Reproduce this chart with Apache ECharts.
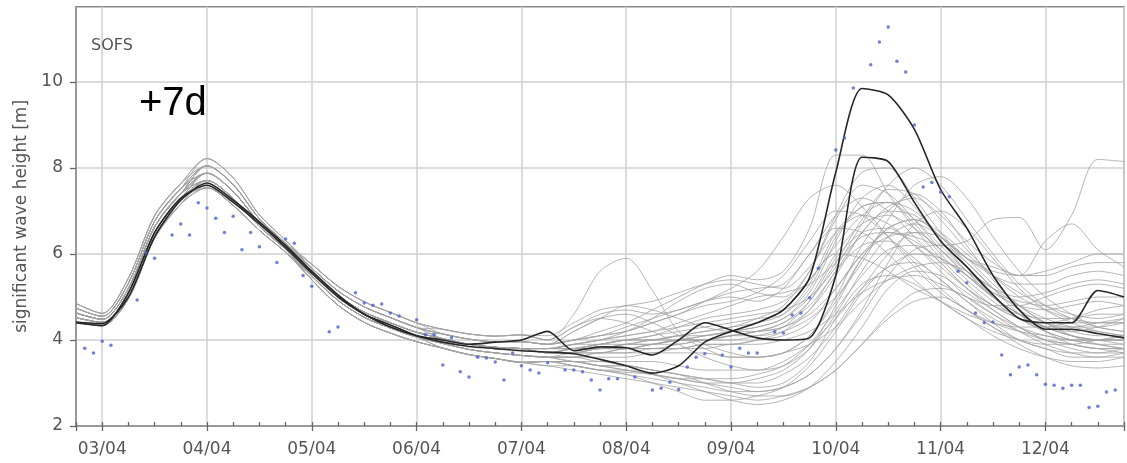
<!DOCTYPE html>
<html>
<head>
<meta charset="utf-8">
<script src="https://cdn.jsdelivr.net/npm/echarts@6/dist/echarts.min.js"></script>
<style>
  html, body { margin: 0; padding: 0; background: #fff; }
  #chart { width: 1127px; height: 463px; }
</style>
</head>
<body>
<div id="chart"></div>
<script>
// Forecast valid times, hours after 03/04 00:00 (6-hourly)
const hours = [-6,0,6,12,18,24,30,36,42,48,54,60,66,72,78,84,90,96,102,108,114,120,126,132,138,144,150,156,162,168,174,180,186,192,198,204,210,216,222,228,234];

// Day tick labels (x = 0 .. 9 days after 03/04)
const dayLabels = ['03/04','04/04','05/04','06/04','07/04','08/04','09/04','10/04','11/04','12/04'];

// Labelled wave-height ticks
const heightTicks = [2,4,6,8,10];

// Two highlighted runs (black)
const runHigh = [4.42,4.38,5.0,6.4,7.25,7.65,7.25,6.75,6.2,5.6,5.05,4.6,4.35,4.1,3.95,3.85,3.8,3.75,3.72,3.68,3.55,3.4,3.23,3.4,3.95,4.2,4.4,4.7,5.45,7.9,9.85,9.7,8.9,7.5,6.6,5.5,4.7,4.25,4.25,4.15,4.05];
const runLow  = [4.4,4.33,5.1,6.5,7.3,7.6,7.2,6.7,6.15,5.55,5.0,4.6,4.3,4.1,4.0,3.9,3.95,4.0,4.2,3.75,3.84,3.82,3.65,4.0,4.4,4.23,4.05,4.0,4.05,5.5,8.25,8.15,7.2,6.3,5.7,5.05,4.5,4.4,4.4,5.15,5.0];

// Ensemble members (grey)
const ens01 = [4.63,4.48,5.2,6.63,7.4,7.88,7.45,6.73,6.18,5.67,5.14,4.77,4.52,4.29,4.25,4.14,4.09,4.12,4.0,4.6,5.6,5.9,5.15,4.2,3.9,3.7,3.6,3.7,4.1,4.9,5.9,6.5,6.3,5.8,5.2,4.7,4.3,4.0,3.9,3.8,3.8];
const ens02 = [4.74,4.55,5.32,6.76,7.52,8.05,7.61,6.82,6.25,5.58,5.03,4.65,4.4,4.18,4.14,4.02,3.96,3.96,3.9,4.0,4.2,4.4,4.7,5.0,5.3,5.5,5.4,5.6,6.6,8.3,8.3,7.4,6.6,5.9,5.3,4.8,4.5,4.4,4.5,4.7,4.8];
const ens03 = [4.52,4.41,5.08,6.5,7.28,7.88,7.45,6.73,6.18,5.58,5.03,4.65,4.4,4.18,4.03,3.9,3.83,3.8,3.8,3.9,4.0,4.2,4.5,4.9,5.2,5.3,5.1,5.0,5.6,6.8,7.6,7.4,6.8,6.1,5.5,5.0,4.6,4.3,4.2,4.3,4.5];
const ens04 = [4.63,4.48,5.2,6.63,7.4,7.71,7.29,6.64,6.11,5.49,4.92,4.53,4.28,4.07,3.92,3.78,3.7,3.64,3.6,3.5,3.4,3.3,3.2,3.0,2.8,2.6,2.5,2.6,2.9,3.5,4.3,5.2,5.6,5.5,5.1,4.7,4.3,4.0,3.8,3.7,3.7];
const ens05 = [4.41,4.34,4.96,6.37,7.16,7.71,7.29,6.64,6.11,5.49,4.92,4.53,4.28,4.07,3.81,3.66,3.57,3.48,3.5,3.4,3.3,3.25,3.2,3.1,3.0,2.9,2.8,2.9,3.2,3.8,4.6,5.5,6.1,6.2,5.8,5.2,4.6,4.2,3.9,3.8,3.7];
const ens06 = [4.63,4.48,5.2,6.63,7.4,8.05,7.61,6.82,6.25,5.58,5.03,4.65,4.4,4.18,4.03,3.9,3.83,3.8,3.8,3.8,3.9,4.0,4.1,4.2,4.3,4.4,4.5,4.6,5.2,6.4,7.1,7.2,6.7,6.0,5.4,4.9,4.5,4.2,4.0,3.9,3.9];
const ens07 = [4.85,4.62,5.44,6.89,7.64,8.22,7.77,6.91,6.32,5.67,5.14,4.77,4.52,4.29,4.03,3.9,3.83,3.8,3.7,3.8,3.9,4.0,4.0,4.1,4.2,4.3,4.5,4.8,5.6,6.9,7.9,8.0,7.3,6.5,5.9,5.6,5.5,5.6,5.8,6.0,6.0];
const ens08 = [4.52,4.41,5.08,6.5,7.28,7.88,7.45,6.73,6.18,5.67,5.14,4.77,4.52,4.29,4.14,4.02,3.96,3.96,3.9,4.2,4.5,4.8,4.7,4.5,4.3,4.2,4.2,4.3,4.6,5.2,6.0,6.6,6.8,6.5,6.0,5.5,5.1,4.8,4.6,4.5,4.6];
const ens09 = [4.74,4.55,5.32,6.76,7.52,7.88,7.45,6.73,6.18,5.58,5.03,4.65,4.4,4.18,4.03,3.9,3.83,3.8,3.8,3.9,4.0,4.1,4.2,4.4,4.6,4.8,5.0,5.1,5.3,5.8,6.4,6.5,6.4,6.2,6.3,6.8,6.85,6.1,6.9,8.2,8.15];
const ens10 = [4.63,4.48,5.2,6.63,7.4,7.88,7.45,6.73,6.18,5.49,4.92,4.53,4.28,4.07,4.03,3.9,3.83,3.8,3.7,3.8,3.9,4.0,4.1,4.3,4.5,4.6,4.7,4.9,5.4,6.2,6.9,7.2,7.0,6.4,5.9,5.7,5.5,6.3,6.7,6.1,5.7];
const ens11 = [4.52,4.41,5.08,6.5,7.28,7.54,7.13,6.55,6.04,5.4,4.81,4.41,4.16,3.96,3.81,3.66,3.57,3.48,3.5,3.5,3.4,3.4,3.3,3.2,3.1,3.0,3.0,3.2,3.6,4.3,5.2,6.0,6.5,6.4,5.9,5.3,4.8,4.4,4.1,3.9,3.8];
const ens12 = [4.63,4.48,5.2,6.63,7.4,7.88,7.45,6.73,6.18,5.58,5.03,4.65,4.4,4.18,4.03,3.9,3.83,3.8,3.7,3.7,3.8,3.8,3.9,4.0,4.0,4.1,4.2,4.4,4.9,5.8,6.8,7.5,7.4,6.8,6.1,5.5,5.0,4.7,4.5,4.4,4.4];
const ens13 = [4.74,4.55,5.32,6.76,7.52,8.22,7.77,6.91,6.32,5.76,5.25,4.89,4.64,4.4,4.14,4.02,3.96,3.96,3.9,4.0,4.1,4.2,4.4,4.6,4.8,4.9,5.1,5.5,6.3,7.0,6.9,6.4,5.8,5.2,4.7,4.3,4.0,3.8,3.7,3.7,3.8];
const ens14 = [4.41,4.34,4.96,6.37,7.16,7.54,7.13,6.55,6.04,5.49,4.92,4.53,4.28,4.07,3.92,3.78,3.7,3.64,3.6,3.5,3.5,3.4,3.3,3.2,3.0,2.8,2.7,2.7,2.9,3.3,3.9,4.6,5.1,5.2,5.0,4.6,4.2,3.9,3.7,3.6,3.6];
const ens15 = [4.63,4.48,5.2,6.63,7.4,8.05,7.61,6.82,6.25,5.67,5.14,4.77,4.52,4.29,4.03,3.9,3.83,3.8,3.8,3.8,3.8,3.9,3.9,4.0,4.0,4.1,4.1,4.2,4.5,5.0,5.8,6.8,7.6,7.8,7.3,6.4,5.6,5.0,4.6,4.3,4.2];
const ens16 = [4.52,4.41,5.08,6.5,7.28,7.71,7.29,6.64,6.11,5.49,4.92,4.53,4.28,4.07,3.92,3.78,3.7,3.64,3.6,3.6,3.7,3.7,3.8,3.8,3.9,3.9,4.0,4.2,4.7,5.6,6.2,6.3,5.9,5.4,4.9,4.5,4.2,4.0,3.9,3.8,3.8];
const ens17 = [4.85,4.62,5.44,6.89,7.64,8.05,7.61,6.82,6.25,5.76,5.25,4.89,4.64,4.4,4.25,4.14,4.09,4.12,4.0,4.3,4.6,4.7,4.6,4.7,4.9,5.1,5.2,5.3,6.0,6.9,7.3,7.0,6.4,5.8,5.2,4.8,4.5,4.3,4.3,4.4,4.5];
const ens18 = [4.52,4.41,5.08,6.5,7.28,7.71,7.29,6.64,6.11,5.4,4.81,4.41,4.16,3.96,3.81,3.66,3.57,3.48,3.5,3.4,3.3,3.2,3.0,2.8,2.6,2.6,2.7,2.9,3.4,4.2,5.1,5.7,5.8,5.4,4.9,4.4,4.0,3.8,3.6,3.6,3.7];
const ens19 = [4.63,4.48,5.2,6.63,7.4,7.71,7.29,6.64,6.11,5.58,5.03,4.65,4.4,4.18,4.03,3.9,3.83,3.8,3.7,3.8,3.8,3.9,4.0,4.1,4.1,4.2,4.3,4.5,5.0,6.0,6.7,6.9,6.6,6.1,5.6,5.2,5.0,5.1,5.3,5.4,5.3];
const ens20 = [4.74,4.55,5.32,6.76,7.52,8.05,7.61,6.82,6.25,5.76,5.25,4.89,4.64,4.4,4.25,4.14,4.09,4.12,4.0,4.3,4.5,4.4,4.2,3.9,3.6,3.4,3.3,3.4,3.8,4.6,5.6,6.4,6.7,6.4,5.8,5.2,4.7,4.4,4.3,4.3,4.4];
const ens21 = [4.63,4.48,5.2,6.63,7.4,7.88,7.45,6.73,6.18,5.58,5.03,4.65,4.4,4.18,4.03,3.9,3.83,3.8,3.8,3.9,4.0,4.1,4.2,4.3,4.4,4.5,4.6,4.7,5.0,5.7,6.7,7.6,8.0,7.6,6.8,6.0,5.3,4.8,4.5,4.3,4.2];
const ens22 = [4.41,4.34,4.96,6.37,7.16,7.54,7.13,6.55,6.04,5.4,4.81,4.41,4.16,3.96,3.81,3.66,3.57,3.48,3.4,3.4,3.3,3.3,3.2,3.1,3.1,3.1,3.2,3.4,3.9,4.7,5.5,6.1,6.2,5.9,5.5,5.1,4.9,4.8,4.9,5.0,5.0];
const ens23 = [4.85,4.62,5.44,6.89,7.64,8.22,7.77,6.91,6.32,5.67,5.14,4.77,4.52,4.29,4.14,4.02,3.96,3.96,3.9,4.0,4.1,4.2,4.4,4.6,4.9,5.2,5.6,6.4,7.3,7.6,7.1,6.4,5.7,5.1,4.7,4.4,4.2,4.1,4.0,4.0,4.0];
const ens24 = [4.52,4.41,5.08,6.5,7.28,7.71,7.29,6.64,6.11,5.49,4.92,4.53,4.28,4.07,3.92,3.78,3.7,3.64,3.6,3.6,3.5,3.5,3.5,3.4,3.3,3.3,3.3,3.5,3.9,4.5,5.2,5.7,6.0,5.9,5.5,5.0,4.6,4.3,4.1,4.0,3.9];
const ens25 = [4.63,4.48,5.2,6.63,7.4,7.88,7.45,6.73,6.18,5.49,4.92,4.53,4.28,4.07,4.03,3.9,3.83,3.8,3.7,3.7,3.7,3.8,3.8,3.9,4.0,4.1,4.2,4.4,4.8,5.6,6.5,7.0,6.9,6.4,5.9,5.5,5.3,5.3,5.5,5.6,5.5];
const ens26 = [4.74,4.55,5.32,6.76,7.52,7.88,7.45,6.73,6.18,5.67,5.14,4.77,4.52,4.29,4.14,4.02,3.96,3.96,3.9,4.0,4.1,4.3,4.5,4.7,4.9,5.0,4.9,5.2,6.0,6.6,6.5,6.0,5.4,4.9,4.5,4.2,4.0,3.9,3.9,4.0,4.1];
const ens27 = [4.41,4.34,4.96,6.37,7.16,7.71,7.29,6.64,6.11,5.4,4.81,4.41,4.16,3.96,3.81,3.66,3.57,3.48,3.5,3.5,3.4,3.4,3.3,3.2,3.1,3.0,2.9,3.0,3.5,4.5,5.3,5.5,5.3,4.9,4.5,4.1,3.8,3.6,3.5,3.5,3.6];
const ens28 = [4.63,4.48,5.2,6.63,7.4,8.05,7.61,6.82,6.25,5.58,5.03,4.65,4.4,4.18,4.03,3.9,3.83,3.8,3.8,3.9,3.9,4.0,4.0,4.1,4.2,4.3,4.4,4.6,5.3,6.5,7.1,7.2,6.8,6.2,5.6,5.1,4.8,4.7,4.8,4.9,4.8];
const ens29 = [4.52,4.41,5.08,6.5,7.28,7.88,7.45,6.73,6.18,5.49,4.92,4.53,4.28,4.07,3.92,3.78,3.7,3.64,3.6,3.7,3.7,3.8,3.8,3.8,3.9,3.9,4.0,4.1,4.4,5.2,6.0,6.4,6.5,6.1,5.5,5.0,4.6,4.3,4.1,4.0,4.0];
const ens30 = [4.85,4.62,5.44,6.89,7.64,8.05,7.61,6.82,6.25,5.76,5.25,4.89,4.64,4.4,4.25,4.14,4.09,4.12,4.1,4.4,4.7,4.8,4.9,5.1,5.3,5.4,5.3,5.2,5.7,6.5,6.9,6.7,6.2,5.6,5.0,4.6,4.3,4.1,4.0,4.0,4.1];
const ens31 = [4.52,4.41,5.08,6.5,7.28,7.54,7.13,6.55,6.04,5.49,4.92,4.53,4.28,4.07,3.81,3.66,3.57,3.48,3.5,3.4,3.3,3.2,3.1,3.0,2.9,2.8,2.8,2.9,3.2,3.8,4.7,5.8,6.7,7.0,6.6,5.9,5.2,4.7,4.4,4.2,4.1];
const ens32 = [4.74,4.55,5.32,6.76,7.52,7.88,7.45,6.73,6.18,5.58,5.03,4.65,4.4,4.18,4.03,3.9,3.83,3.8,3.8,3.8,3.9,3.9,4.0,4.0,4.1,4.2,4.3,4.5,5.1,6.3,7.3,7.6,7.1,6.3,5.6,5.0,4.6,4.3,4.1,4.0,4.0];
const ens33 = [4.63,4.48,5.2,6.63,7.4,7.71,7.29,6.64,6.11,5.58,5.03,4.65,4.4,4.18,4.03,3.9,3.83,3.8,3.7,3.7,3.8,3.8,3.9,4.0,4.1,4.2,4.4,4.7,5.4,6.0,5.9,5.6,5.2,4.9,4.6,4.4,4.3,4.3,4.4,4.4,4.4];
const ens34 = [4.52,4.41,5.08,6.5,7.28,7.88,7.45,6.73,6.18,5.49,4.92,4.53,4.28,4.07,3.92,3.78,3.7,3.64,3.6,3.6,3.6,3.6,3.7,3.7,3.7,3.6,3.6,3.7,3.9,4.3,4.9,5.4,5.7,5.8,5.6,5.2,4.8,4.5,4.3,4.2,4.1];
const ens35 = [4.63,4.48,5.2,6.63,7.4,8.05,7.61,6.82,6.25,5.58,5.03,4.65,4.4,4.18,4.03,3.9,3.83,3.8,3.7,3.8,3.8,3.9,3.9,4.0,4.0,4.1,4.2,4.3,4.7,5.5,6.5,7.1,7.3,6.9,6.3,5.8,5.5,5.5,5.7,5.8,5.8];
const ens36 = [4.41,4.34,4.96,6.37,7.16,7.54,7.13,6.55,6.04,5.4,4.81,4.41,4.16,3.96,3.81,3.66,3.57,3.48,3.4,3.3,3.2,3.1,3.0,2.9,2.8,2.7,2.6,2.7,2.9,3.3,3.9,4.5,4.9,5.0,4.7,4.3,3.9,3.6,3.4,3.35,3.4];
const ens37 = [4.63,4.48,5.2,6.63,7.4,7.88,7.45,6.73,6.18,5.58,5.03,4.65,4.4,4.18,4.03,3.9,3.83,3.8,3.7,3.7,3.8,3.8,3.9,3.9,4.0,4.0,4.1,4.3,4.9,5.9,6.5,6.6,6.2,5.7,5.2,4.8,4.6,4.5,4.5,4.6,4.6];
const ens38 = [4.74,4.55,5.32,6.76,7.52,8.05,7.61,6.82,6.25,5.67,5.14,4.77,4.52,4.29,4.14,4.02,3.96,3.96,3.9,4.2,4.5,4.6,4.4,4.1,3.8,3.6,3.6,3.7,4.1,5.0,6.2,7.0,7.4,7.0,6.2,5.4,4.8,4.4,4.2,4.1,4.1];
const ens39 = [4.52,4.41,5.08,6.5,7.28,7.71,7.29,6.64,6.11,5.49,4.92,4.53,4.28,4.07,3.92,3.78,3.7,3.64,3.6,3.6,3.7,3.7,3.7,3.8,3.8,3.9,3.9,4.0,4.2,4.6,5.1,5.4,5.5,5.3,5.0,4.8,4.8,5.0,5.2,5.3,5.2];
const ens40 = [4.41,4.34,4.96,6.37,7.16,7.71,7.29,6.64,6.11,5.4,4.81,4.41,4.16,3.96,3.81,3.66,3.57,3.48,3.5,3.5,3.4,3.3,3.2,3.1,3.0,3.0,3.1,3.3,3.8,4.8,5.9,6.6,6.8,6.4,5.7,5.0,4.5,4.2,4.0,3.9,3.8];

const ensemble = [ens01,ens02,ens03,ens04,ens05,ens06,ens07,ens08,ens09,ens10,
                  ens11,ens12,ens13,ens14,ens15,ens16,ens17,ens18,ens19,ens20,
                  ens21,ens22,ens23,ens24,ens25,ens26,ens27,ens28,ens29,ens30,
                  ens31,ens32,ens33,ens34,ens35,ens36,ens37,ens38,ens39,ens40];

// Buoy observations: hours after 03/04 00:00 and measured height [m]
const obsHours = [-4,-2,0,2,8,10,12,16,18,20,22,24,26,28,30,32,34,36,40,42,44,46,48,52,54,58,60,62,64,66,68,72,74,76,78,80,82,84,86,88,90,92,94,96,98,100,102,106,108,110,112,114,116,118,122,126,128,130,132,134,136,138,142,144,146,148,150,154,156,158,160,162,164,168,170,172,176,178,180,182,184,186,188,190,192,194,196,198,200,202,204,206,208,210,212,214,216,218,220,222,224,226,228,230,232];
const obsValues = [3.81,3.7,3.97,3.88,4.93,6.03,5.9,6.44,6.7,6.44,7.19,7.07,6.83,6.5,6.88,6.1,6.5,6.17,5.8,6.35,6.25,5.5,5.25,4.19,4.3,5.1,4.86,4.81,4.84,4.63,4.56,4.47,4.12,4.12,3.42,4.05,3.26,3.14,3.6,3.58,3.49,3.07,3.7,3.4,3.3,3.23,3.47,3.3,3.3,3.26,3.07,2.84,3.1,3.1,3.14,2.84,2.88,3.02,2.85,3.37,3.6,3.68,3.65,3.37,3.81,3.7,3.7,4.19,4.16,4.58,4.63,4.98,5.67,8.42,8.7,9.86,10.4,10.93,11.28,10.48,10.23,9.0,7.56,7.66,7.44,7.33,5.6,5.33,4.63,4.4,4.42,3.65,3.19,3.37,3.42,3.19,2.97,2.95,2.88,2.95,2.95,2.43,2.46,2.79,2.84];

const toDays = h => h / 24;
const memberPoints = vals => hours.map((h, i) => [toDays(h), vals[i]]);

const labelFont = 'DejaVu Sans';
const textGrey = '#555';
const frameGrey = '#8a8a8a';
const tickStyle = { color: '#666', width: 1.3 };

const series = [];
ensemble.forEach(m => {
  series.push({
    type: 'line', data: memberPoints(m), showSymbol: false, smooth: 0.3,
    silent: true, z: 2,
    lineStyle: { color: '#a2a2a2', width: 0.8 }
  });
});
[runHigh, runLow].forEach(r => {
  series.push({
    type: 'line', data: memberPoints(r), showSymbol: false, smooth: 0.25,
    silent: true, z: 3,
    lineStyle: { color: '#262626', width: 1.6 }
  });
});
series.push({
  type: 'scatter', z: 4, silent: true,
  data: obsHours.map((h, i) => [toDays(h), obsValues[i]]),
  symbol: 'circle', symbolSize: 3.5,
  itemStyle: { color: '#4c60d0' }
});

const chart = echarts.init(document.getElementById('chart'), null, { renderer: 'canvas' });
chart.setOption({
  animation: false,
  backgroundColor: '#ffffff',
  grid: {
    left: 76, top: 6.75, right: -5, bottom: 37,
    show: true, borderColor: frameGrey, borderWidth: 1.5
  },
  title: {
    text: 'SOFS', left: 86, top: 33,
    textStyle: { fontFamily: labelFont, fontSize: 16, fontWeight: 'normal', color: textGrey }
  },
  graphic: [{
    type: 'text', left: 139, top: 84, z: 10,
    style: { text: '+7d', font: '40px "Liberation Sans", Arial, sans-serif', fill: '#000' }
  }],
  xAxis: [{
    type: 'value', min: -0.25, max: 9.75, splitNumber: 10,
    axisLine: { show: true, onZero: false, lineStyle: { color: frameGrey, width: 1.5 } },
    axisTick: { show: true, length: 5, lineStyle: tickStyle },
    axisLabel: {
      margin: 15, fontFamily: labelFont, fontSize: 17, color: textGrey,
      formatter: v => {
        const d = Math.round(v);
        return (Math.abs(v - d) < 1e-6 && dayLabels[d]) ? dayLabels[d] : '';
      }
    },
    splitLine: { show: true, lineStyle: { color: '#d0d0d0', width: 1.5 } }
  }, {
    // 6-hourly tick marks below the time axis
    type: 'value', min: -0.25, max: 9.75, interval: 0.25, position: 'bottom',
    axisLine: { show: false, onZero: false },
    axisTick: { show: true, inside: true, length: 4, lineStyle: tickStyle },
    axisLabel: { show: false },
    splitLine: { show: false }
  }],
  yAxis: {
    type: 'value', min: 2, max: 11.75, interval: 2,
    name: 'significant wave height [m]', nameLocation: 'middle', nameGap: 44,
    nameTextStyle: { fontFamily: labelFont, fontSize: 17, color: textGrey },
    axisLine: { show: true, onZero: false, lineStyle: { color: frameGrey, width: 1.5 } },
    axisTick: { show: true, length: 6, customValues: heightTicks, lineStyle: tickStyle },
    axisLabel: {
      margin: 13, fontFamily: labelFont, fontSize: 17, color: textGrey,
      formatter: v => (heightTicks.indexOf(v) >= 0 ? String(v) : '')
    },
    splitLine: { show: true, lineStyle: { color: '#d0d0d0', width: 1.5 } }
  },
  series: series
});
</script>
</body>
</html>
